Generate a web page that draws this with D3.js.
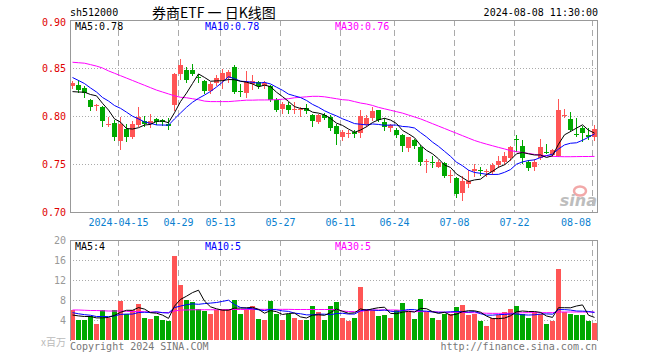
<!DOCTYPE html>
<html><head><meta charset="utf-8">
<script src="https://cdn.jsdelivr.net/npm/d3@7/dist/d3.min.js"></script>
<style>body{margin:0;background:#fff}svg{display:block}</style>
</head><body><svg id="c" width="660" height="360"></svg>
<script>
const dates = [
"2024-04-01","2024-04-02","2024-04-03","2024-04-08","2024-04-09","2024-04-10","2024-04-11","2024-04-12","2024-04-15","2024-04-16",
"2024-04-17","2024-04-18","2024-04-19","2024-04-22","2024-04-23","2024-04-24","2024-04-25","2024-04-26","2024-04-29","2024-04-30",
"2024-05-06","2024-05-07","2024-05-08","2024-05-09","2024-05-10","2024-05-13","2024-05-14","2024-05-15","2024-05-16","2024-05-17",
"2024-05-20","2024-05-21","2024-05-22","2024-05-23","2024-05-24","2024-05-27","2024-05-28","2024-05-29","2024-05-30","2024-05-31",
"2024-06-03","2024-06-04","2024-06-05","2024-06-06","2024-06-07","2024-06-11","2024-06-12","2024-06-13","2024-06-14","2024-06-17",
"2024-06-18","2024-06-19","2024-06-20","2024-06-21","2024-06-24","2024-06-25","2024-06-26","2024-06-27","2024-06-28","2024-07-01",
"2024-07-02","2024-07-03","2024-07-04","2024-07-05","2024-07-08","2024-07-09","2024-07-10","2024-07-11","2024-07-12","2024-07-15",
"2024-07-16","2024-07-17","2024-07-18","2024-07-19","2024-07-22","2024-07-23","2024-07-24","2024-07-25","2024-07-26","2024-07-29",
"2024-07-30","2024-07-31","2024-08-01","2024-08-02","2024-08-05","2024-08-06","2024-08-07","2024-08-08"];

const open = [
0.831,0.832,0.829,0.817,0.810,0.809,0.791,0.793,0.774,0.786,
0.778,0.791,0.795,0.792,0.797,0.796,0.792,0.811,0.844,0.848,
0.848,0.841,0.836,0.826,0.834,0.838,0.840,0.851,0.826,0.824,
0.833,0.835,0.831,0.831,0.817,0.807,0.811,0.806,0.806,0.808,
0.801,0.794,0.801,0.799,0.790,0.778,0.781,0.783,0.782,0.791,
0.798,0.806,0.794,0.788,0.785,0.780,0.767,0.775,0.768,0.752,
0.752,0.747,0.751,0.738,0.735,0.720,0.729,0.743,0.744,0.742,
0.742,0.749,0.752,0.756,0.776,0.769,0.752,0.747,0.756,0.763,
0.759,0.758,0.800,0.797,0.781,0.788,0.780,0.778];
const high = [
0.836,0.838,0.831,0.818,0.813,0.810,0.799,0.796,0.799,0.792,
0.795,0.809,0.800,0.802,0.798,0.797,0.798,0.845,0.859,0.851,
0.854,0.844,0.838,0.835,0.843,0.849,0.848,0.853,0.833,0.847,
0.843,0.836,0.836,0.832,0.819,0.815,0.815,0.815,0.809,0.812,
0.802,0.802,0.803,0.801,0.792,0.785,0.785,0.785,0.806,0.801,
0.809,0.806,0.798,0.792,0.788,0.781,0.778,0.776,0.770,0.755,
0.758,0.754,0.752,0.744,0.736,0.737,0.744,0.750,0.747,0.745,
0.751,0.758,0.763,0.769,0.780,0.775,0.754,0.755,0.776,0.771,
0.766,0.818,0.807,0.804,0.798,0.790,0.787,0.791];
const low = [
0.829,0.825,0.820,0.806,0.806,0.790,0.790,0.775,0.766,0.774,
0.777,0.790,0.790,0.789,0.792,0.791,0.786,0.806,0.839,0.835,
0.843,0.835,0.824,0.824,0.832,0.829,0.835,0.824,0.821,0.820,
0.828,0.829,0.829,0.816,0.805,0.803,0.803,0.803,0.800,0.803,
0.790,0.793,0.797,0.785,0.771,0.775,0.778,0.778,0.778,0.790,
0.796,0.795,0.785,0.784,0.778,0.764,0.764,0.767,0.749,0.742,
0.747,0.747,0.736,0.731,0.716,0.712,0.726,0.737,0.739,0.738,
0.740,0.747,0.750,0.754,0.764,0.751,0.744,0.744,0.755,0.761,
0.758,0.758,0.799,0.784,0.779,0.774,0.776,0.775];
const close = [
0.834,0.827,0.824,0.809,0.811,0.795,0.792,0.778,0.792,0.778,
0.792,0.799,0.792,0.795,0.794,0.794,0.790,0.844,0.853,0.838,
0.844,0.840,0.826,0.833,0.840,0.845,0.846,0.825,0.825,0.835,
0.836,0.831,0.834,0.817,0.806,0.813,0.806,0.807,0.807,0.805,
0.795,0.801,0.798,0.788,0.781,0.783,0.782,0.781,0.800,0.798,
0.805,0.796,0.789,0.791,0.780,0.769,0.778,0.769,0.752,0.753,
0.751,0.752,0.737,0.739,0.719,0.732,0.732,0.745,0.743,0.743,
0.749,0.753,0.758,0.768,0.775,0.756,0.746,0.752,0.768,0.762,
0.765,0.806,0.801,0.785,0.780,0.782,0.778,0.786];
// volume, millions of shares
const volume = [
6.0,4.0,4.0,4.8,3.3,6.0,4.5,6.0,7.9,5.3,
6.0,7.2,4.5,4.3,4.8,4.1,3.9,16.8,11.0,8.0,
7.7,6.3,5.9,5.3,6.0,6.3,6.3,8.0,5.3,6.3,
6.8,4.3,4.1,7.9,5.2,4.0,5.3,4.5,4.1,4.1,
6.8,5.7,4.0,6.8,7.7,4.5,3.7,4.5,10.7,6.3,
6.0,4.8,5.0,4.5,6.0,7.5,5.7,4.2,8.2,5.7,
4.5,4.0,5.3,5.3,6.7,7.0,5.0,5.2,3.9,2.8,
4.5,5.0,5.7,6.2,6.8,5.3,4.5,5.7,5.3,3.2,
3.9,14.2,5.7,5.2,5.0,5.0,3.9,3.5];
// closes / volumes of the 9 sessions before the window (inferred from where MA5/MA10 start)
const priorCloses = [0.858,0.856,0.855,0.853,0.852,0.829,0.825,0.821,0.818];
const priorVolumes = [6.2,5.8,6.0,5.9,5.8,4.9,4.6,4.8,4.7];
// 30-day moving averages
const ma30Price = [
0.856,0.8555,0.855,0.8535,0.852,0.850,0.847,0.8445,0.842,0.8395,
0.837,0.8345,0.832,0.8295,0.827,0.825,0.823,0.821,0.8195,0.819,
0.818,0.817,0.8155,0.815,0.815,0.815,0.815,0.8155,0.816,0.8165,
0.8165,0.8167,0.8167,0.8168,0.817,0.8175,0.818,0.819,0.8195,0.820,
0.8205,0.8205,0.820,0.819,0.818,0.817,0.8165,0.815,0.8135,0.8125,
0.811,0.809,0.8075,0.806,0.8045,0.803,0.801,0.799,0.797,0.7945,
0.792,0.7895,0.787,0.7845,0.782,0.7795,0.777,0.7745,0.7725,0.7707,
0.769,0.7673,0.7657,0.764,0.7628,0.762,0.761,0.760,0.7592,0.7585,
0.758,0.7577,0.7576,0.7576,0.7577,0.7578,0.7578,0.7579];
const ma30Volume = [
6.0,6.0,5.95,5.9,5.9,5.85,5.8,5.8,5.8,5.75,
5.7,5.7,5.65,5.6,5.55,5.5,5.47,5.8,6.0,6.0,
6.05,6.05,6.05,6.05,6.05,6.05,6.1,6.1,6.1,6.1,
6.13,6.13,6.13,6.13,6.13,6.13,6.13,6.1,6.1,6.1,
6.1,6.1,6.1,6.1,6.1,5.8,5.7,5.67,5.7,5.9,
6.0,6.0,6.0,6.0,6.0,5.9,5.8,5.7,5.67,5.67,
5.67,5.6,5.55,5.53,5.53,5.53,5.5,5.45,5.4,5.35,
5.33,5.33,5.33,5.35,5.4,5.45,5.47,5.47,5.47,5.47,
5.47,5.6,5.6,5.6,5.6,5.6,5.6,5.6];

const priceTicks = [0.90,0.85,0.80,0.75,0.70];
const volumeTicks = [20,16,12,8,4];
const dateTicks = ["2024-04-15","2024-04-29","2024-05-13","2024-05-27","2024-06-11","2024-06-24","2024-07-08","2024-07-22","2024-08-08"];
const dateTickLabels = ["2024-04-15","04-29","05-13","05-27","06-11","06-24","07-08","07-22","08-08"];

const svg = d3.select('#c');
const mono = '"DejaVu Sans Mono","Liberation Mono",monospace';
const UP = '#ff5555', DOWN = '#00a800', GRID = '#aaaaaa', FRAME = '#999999';

const x = d3.scaleBand().domain(dates).range([70, 598]);
const yP = d3.scaleLinear().domain([0.70, 0.90]).range([212, 20]);
const yV = d3.scaleLinear().domain([0, 20]).range([340, 240]);
const cx = d => x(d) + 2.5;
const crisp = v => Math.round(v) + 0.5;

function movingAvg(vals, prior, n) {
  const all = prior.concat(vals);
  return vals.map((_, i) => d3.mean(all.slice(i + prior.length - n + 1, i + prior.length + 1)));
}
const ma5P = movingAvg(close, priorCloses, 5), ma10P = movingAvg(close, priorCloses, 10);
const ma5V = movingAvg(volume, priorVolumes, 5), ma10V = movingAvg(volume, priorVolumes, 10);

// ---------- grid ----------
const grid = svg.append('g').attr('shape-rendering', 'crispEdges');
grid.selectAll('.hp').data(priceTicks.slice(1, -1)).join('line')
  .attr('x1', 70).attr('x2', 597).attr('y1', d => crisp(yP(d))).attr('y2', d => crisp(yP(d)))
  .attr('stroke', GRID).attr('stroke-dasharray', '1,2');
grid.selectAll('.hv').data(volumeTicks.slice(1)).join('line')
  .attr('x1', 70).attr('x2', 597).attr('y1', d => crisp(yV(d))).attr('y2', d => crisp(yV(d)))
  .attr('stroke', GRID).attr('stroke-dasharray', '1,2');
[[20, 212], [240, 340]].forEach(([a, b]) => {
  grid.append('g').selectAll('line').data(dateTicks).join('line')
    .attr('x1', d => x(d) + 0.5).attr('x2', d => x(d) + 0.5).attr('y1', a).attr('y2', b)
    .attr('stroke', GRID).attr('stroke-dasharray', '6,4');
});

// ---------- watermark ----------
const wm = svg.append('g');
wm.append('ellipse').attr('cx', 580).attr('cy', 191).attr('rx', 6).attr('ry', 4.5)
  .attr('fill', 'none').attr('stroke', '#f2a8a8').attr('stroke-width', 2.5);
wm.append('text').attr('x', 597).attr('y', 206).attr('text-anchor', 'end')
  .attr('font-family', '"DejaVu Sans",sans-serif').attr('font-weight', 'bold').attr('font-style', 'italic')
  .attr('font-size', 16).attr('fill', '#bdbdbd').text('sina');

// ---------- candles ----------
const idx = d3.range(dates.length);
const cg = svg.append('g').attr('shape-rendering', 'crispEdges');
const col = i => close[i] >= open[i] ? UP : DOWN;
cg.selectAll('.wick').data(idx).join('line')
  .attr('x1', i => cx(dates[i])).attr('x2', i => cx(dates[i]))
  .attr('y1', i => Math.round(yP(high[i]))).attr('y2', i => Math.round(yP(low[i])) + 1)
  .attr('stroke', col);
cg.selectAll('.body').data(idx).join('rect')
  .attr('x', i => x(dates[i])).attr('width', x.bandwidth() - 1)
  .attr('y', i => Math.round(yP(Math.max(open[i], close[i]))))
  .attr('height', i => Math.max(1, Math.round(yP(Math.min(open[i], close[i]))) - Math.round(yP(Math.max(open[i], close[i])))))
  .attr('fill', col);

// ---------- volume bars ----------
svg.append('g').attr('shape-rendering', 'crispEdges').selectAll('rect').data(idx).join('rect')
  .attr('x', i => x(dates[i])).attr('width', x.bandwidth() - 1)
  .attr('y', i => Math.round(yV(volume[i]))).attr('height', i => 340 - Math.round(yV(volume[i])))
  .attr('fill', col);

// ---------- moving averages ----------
function maLine(vals, y, color) {
  svg.append('path').attr('d', d3.line().x((v, i) => cx(dates[i])).y(v => y(v))(vals))
    .attr('fill', 'none').attr('stroke', color).attr('stroke-width', 1);
}
maLine(ma30Price, yP, '#ff00ff'); maLine(ma10P, yP, '#0000ff'); maLine(ma5P, yP, '#000000');
maLine(ma30Volume, yV, '#ff00ff'); maLine(ma10V, yV, '#0000ff'); maLine(ma5V, yV, '#000000');

// ---------- frames ----------
const fr = svg.append('g').attr('shape-rendering', 'crispEdges').attr('stroke', FRAME).attr('fill', 'none');
fr.append('rect').attr('x', 70.5).attr('y', 20.5).attr('width', 527).attr('height', 192);
fr.append('path').attr('d', 'M70.5,341V240.5H597.5V341');

// ---------- axis labels ----------
const txt = (x0, y0, s, opt = {}) => svg.append('text').attr('x', x0).attr('y', y0)
  .attr('font-family', opt.font || mono).attr('font-size', opt.size || 10)
  .attr('fill', opt.fill || '#000').attr('text-anchor', opt.anchor || 'start')
  .attr('dominant-baseline', 'central').text(s);
priceTicks.forEach(v => txt(66, yP(v) + (v === 0.90 ? 2 : 0), v.toFixed(2), { fill: '#e00000', anchor: 'end' }));
volumeTicks.forEach(v => txt(66, yV(v) + 0.5, String(v), { fill: '#999', anchor: 'end' }));
txt(66, 341, 'x百万', { fill: '#bbb', anchor: 'end', font: '"Noto Sans CJK SC",sans-serif', size: 10 });
dateTicks.forEach((d, i) => {
  const last = i === dateTicks.length - 1;
  txt(last ? x(d) - 1 : x(d) + 0.5, 222, dateTickLabels[i], { fill: '#0a7fd0', anchor: last ? 'end' : 'middle' });
});

// ---------- header & legends ----------
txt(70, 12, 'sh512000');
txt(152, 12, '券商ETF 一 日K线图', { font: '"Noto Sans CJK SC",sans-serif', size: 14 });
txt(598, 12, '2024-08-08 11:30:00', { anchor: 'end' });
const last = dates.length - 1;
txt(75, 26, 'MA5:' + ma5P[last].toFixed(2));
txt(205, 26, 'MA10:' + ma10P[last].toFixed(2), { fill: '#0000ff' });
txt(335, 26, 'MA30:' + ma30Price[last].toFixed(2), { fill: '#ff00ff' });
txt(75, 246, 'MA5:' + Math.floor(ma5V[last]));
txt(205, 246, 'MA10:' + Math.floor(ma10V[last]), { fill: '#0000ff' });
txt(335, 246, 'MA30:' + Math.floor(ma30Volume[last]), { fill: '#ff00ff' });
txt(70, 346, 'Copyright 2024 SINA.COM', { fill: '#777' });
txt(597, 346, 'http://finance.sina.com.cn', { fill: '#777', anchor: 'end' });
</script></body></html>
